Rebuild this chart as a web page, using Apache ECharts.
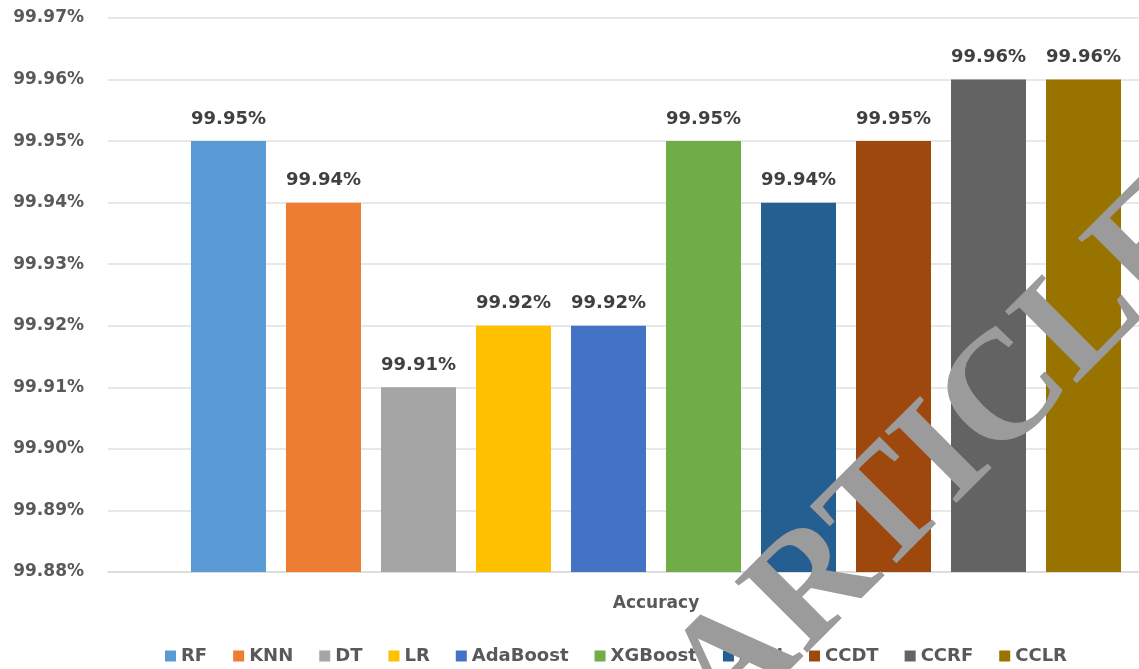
<!DOCTYPE html>
<html>
<head>
<meta charset="utf-8">
<style>
  html, body { margin: 0; padding: 0; background: #ffffff; }
  #chart { width: 1139px; height: 669px; }
</style>
<script src="https://cdn.jsdelivr.net/npm/echarts@6/dist/echarts.min.js"></script>
</head>
<body>
<div id="chart"></div>
<script>
// Accuracy of each model (percent)
const categories = ['Accuracy'];
const models = ['RF', 'KNN', 'DT', 'LR', 'AdaBoost', 'XGBoost', 'ANN', 'CCDT', 'CCRF', 'CCLR'];
const accuracy = [99.95, 99.94, 99.91, 99.92, 99.92, 99.95, 99.94, 99.95, 99.96, 99.96];
const colors = ['#5B9BD5', '#ED7D31', '#A5A5A5', '#FFC000', '#4472C4', '#70AD47', '#255E91', '#9E480E', '#636363', '#997300'];
// value axis range and step (percent)
const yMin = 99.88;
const yMax = 99.97;
const yStep = 0.01;
const watermark = 'ARTICLE';

const FONT = '"DejaVu Sans", Verdana, sans-serif';
const chart = echarts.init(document.getElementById('chart'), null, { renderer: 'canvas' });

const series = models.map((name, i) => ({
  name: name,
  type: 'bar',
  data: [accuracy[i]],
  barWidth: 75,
  barGap: '26.67%',
  itemStyle: { color: colors[i] },
  label: {
    show: true,
    position: 'top',
    distance: 13,
    fontFamily: FONT,
    fontWeight: 'bold',
    fontSize: 18,
    color: '#404040',
    formatter: p => p.value.toFixed(2) + '%'
  }
}));

chart.setOption({
  backgroundColor: '#ffffff',
  animation: false,
  color: colors,
  grid: {
    left: 108, top: 18, right: -65, height: 554,
    containLabel: false,
    outerBoundsMode: 'none'
  },
  legend: {
    data: models,
    left: 160,
    top: 642,
    icon: 'rect',
    itemWidth: 11,
    itemHeight: 11,
    itemGap: 26,
    textStyle: { fontFamily: FONT, fontWeight: 'bold', fontSize: 18, color: '#595959' }
  },
  xAxis: {
    type: 'category',
    data: categories,
    axisLine: { show: true, lineStyle: { color: '#d9d9d9', width: 1.5 } },
    axisTick: { show: false },
    axisLabel: { margin: 23, fontFamily: FONT, fontWeight: 'bold', fontSize: 17, color: '#595959' }
  },
  yAxis: {
    type: 'value',
    min: yMin,
    max: yMax,
    interval: yStep,
    axisLine: { show: false },
    axisTick: { show: false },
    splitLine: { lineStyle: { color: '#e0e0e0', width: 1.5 } },
    axisLabel: {
      margin: 24,
      fontFamily: FONT,
      fontWeight: 'bold',
      fontSize: 17,
      color: '#595959',
      formatter: v => v.toFixed(2) + '%'
    }
  },
  series: series,
  graphic: [{
    type: 'text',
    x: 697,
    y: 706,
    rotation: Math.PI / 4,
    z: 100,
    silent: true,
    style: {
      text: watermark,
      font: 'bold 155px "Liberation Serif", "DejaVu Serif", serif',
      fill: '#9b9b9b',
      textAlign: 'left',
      textVerticalAlign: 'middle',
      verticalAlign: 'middle'
    }
  }]
});
</script>
</body>
</html>
